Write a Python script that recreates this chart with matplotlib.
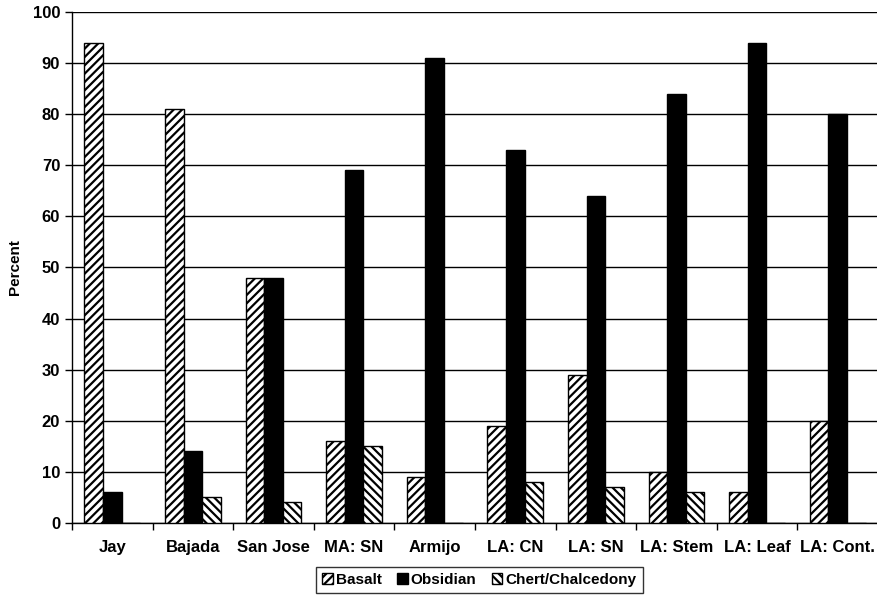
import numpy as np
import matplotlib.pyplot as plt
from matplotlib.ticker import FixedLocator, MultipleLocator

plt.rcParams['font.family'] = ['Liberation Sans', 'DejaVu Sans']
plt.rcParams['font.weight'] = 'bold'
plt.rcParams['hatch.linewidth'] = 1.6

sites = ["Jay", "Bajada", "San Jose", "MA: SN", "Armijo", "LA: CN",
         "LA: SN", "LA: Stem", "LA: Leaf", "LA: Cont."]
basalt = [94, 81, 48, 16, 9, 19, 29, 10, 6, 20]
obsidian = [6, 14, 48, 69, 91, 73, 64, 84, 94, 80]
chert = [0, 5, 4, 15, 0, 8, 7, 6, 0, 0]

x = np.arange(len(sites))
w = 0.23

fig = plt.figure(figsize=(8.78, 5.99), dpi=100)
ax = fig.add_axes([0.082, 0.127, 0.918, 0.853])

ax.bar(x - w, basalt, w, color='white', edgecolor='black', hatch='////',
       linewidth=1, label='Basalt', zorder=3)
ax.bar(x, obsidian, w, color='black', edgecolor='black',
       linewidth=1, label='Obsidian', zorder=3)
ax.bar(x + w, chert, w, color='white', edgecolor='black', hatch='\\\\\\\\',
       linewidth=1, label='Chert/Chalcedony', zorder=3)

ax.set_xlim(-0.5, len(sites) - 0.5)
ax.set_ylim(0, 100)
ax.yaxis.set_major_locator(MultipleLocator(10))
ax.grid(axis='y', color='black', linewidth=1, zorder=0)

ax.set_xticks(x)
ax.set_xticklabels(sites, fontsize=12, fontweight='bold')
ax.xaxis.set_minor_locator(FixedLocator(np.arange(-0.5, len(sites), 1.0)))
ax.tick_params(axis='x', which='major', length=0, pad=12)
ax.tick_params(axis='x', which='minor', length=5, width=1, direction='out')
ax.tick_params(axis='y', length=5, width=1, labelsize=12)
for lbl in ax.get_yticklabels():
    lbl.set_fontweight('bold')

ax.set_ylabel('Percent', fontsize=11, fontweight='bold', labelpad=8)

for s in ['top', 'right']:
    ax.spines[s].set_visible(False)
ax.spines['left'].set_linewidth(1)
ax.spines['bottom'].set_linewidth(1)

leg = fig.legend(loc='center', bbox_to_anchor=(0.546, 0.032), ncol=3,
                 fontsize=11, frameon=True, fancybox=False, edgecolor='black',
                 handlelength=0.7, handleheight=0.7, handletextpad=0.2,
                 columnspacing=1.0, borderpad=0.4)
leg.get_frame().set_linewidth(1)
for t in leg.get_texts():
    t.set_fontweight('bold')

fig.savefig('out.png', dpi=100)
